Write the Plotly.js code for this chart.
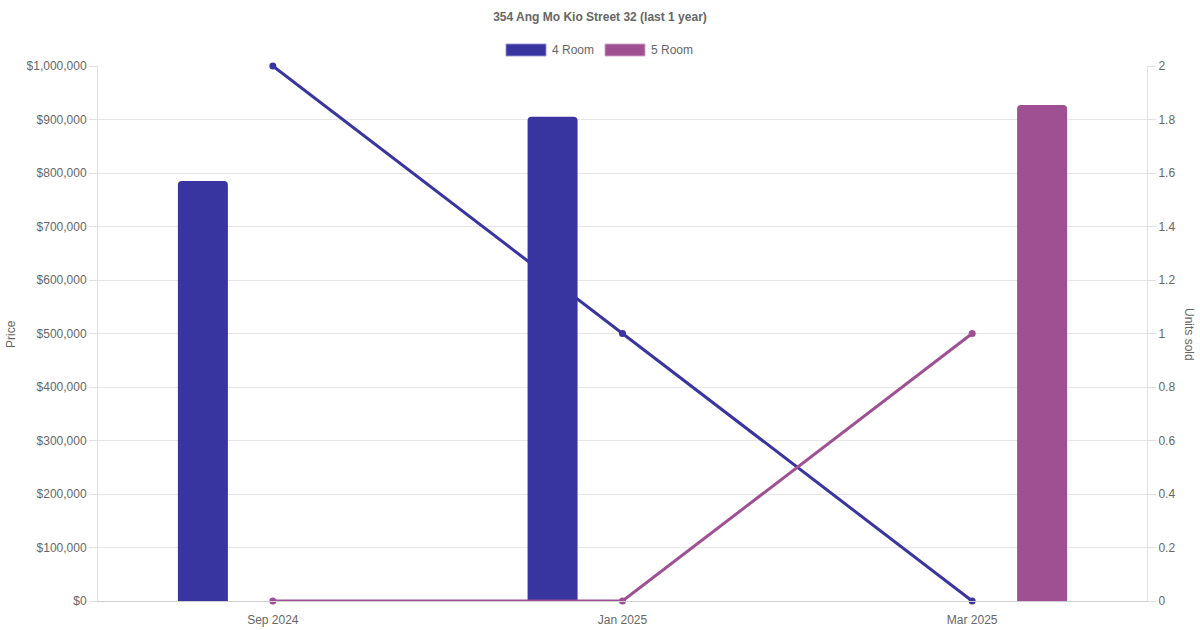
<!DOCTYPE html>
<html>
<head>
<meta charset="utf-8">
<script src="https://cdn.plot.ly/plotly-3.0.1.min.js"></script>
<style>html,body{margin:0;padding:0;background:#fff;}#chart{width:1200px;height:630px;}</style>
</head>
<body>
<div id="chart"></div>
<script>
const categories = ["Sep 2024", "Jan 2025", "Mar 2025"];
const seriesNames = ["4 Room", "5 Room"];
const price4Room = [785000, 905000, null];
const price5Room = [null, null, 927000];
const units4Room = [2, 1, 0];
const units5Room = [0, 0, 1];
const priceTicks = [0, 100000, 200000, 300000, 400000, 500000, 600000, 700000, 800000, 900000, 1000000];
const priceTickLabels = ["$0", "$100,000", "$200,000", "$300,000", "$400,000", "$500,000", "$600,000", "$700,000", "$800,000", "$900,000", "$1,000,000"];
const unitTicks = [0, 0.2, 0.4, 0.6, 0.8, 1, 1.2, 1.4, 1.6, 1.8, 2];
const unitTickLabels = ["0", "0.2", "0.4", "0.6", "0.8", "1", "1.2", "1.4", "1.6", "1.8", "2"];

const col4 = "rgb(57,53,160)";
const col5 = "rgb(158,80,147)";
const font = "Liberation Sans, Arial, Helvetica, sans-serif";
const barW = 0.143;

const traces = [
  {type: "bar", name: seriesNames[0], x: categories, y: price4Room, yaxis: "y",
   width: barW, offset: -0.2 - barW / 2, marker: {color: col4, cornerradius: 4}, showlegend: false},
  {type: "bar", name: seriesNames[1], x: categories, y: price5Room, yaxis: "y",
   width: barW, offset: 0.2 - barW / 2, marker: {color: col5, cornerradius: 4}, showlegend: false},
  {type: "scatter", mode: "lines+markers", name: seriesNames[0], x: categories, y: units4Room, yaxis: "y2",
   line: {color: col4, width: 3}, marker: {color: col4, size: 7}, showlegend: false, cliponaxis: false},
  {type: "scatter", mode: "lines+markers", name: seriesNames[1], x: categories, y: units5Room, yaxis: "y2",
   line: {color: col5, width: 3}, marker: {color: col5, size: 7}, showlegend: false, cliponaxis: false}
];

const layout = {
  width: 1200, height: 630,
  margin: {l: 98, r: 53, t: 66, b: 29},
  paper_bgcolor: "#fff", plot_bgcolor: "#fff",
  font: {family: font, size: 12, color: "#666"},
  barmode: "overlay",
  showlegend: false,
  title: {text: "<b>354 Ang Mo Kio Street 32 (last 1 year)</b>", x: 0.5, xanchor: "center", y: 1 - 17 / 630, yanchor: "middle",
          font: {family: font, size: 12, color: "#666"}},
  xaxis: {type: "category", range: [-0.5, 2.5], showgrid: false, zeroline: false,
          showline: true, linecolor: "#cfcfcf", linewidth: 1, ticks: "", ticklabelstandoff: 8,
          tickfont: {size: 12, color: "#666"}, fixedrange: true},
  yaxis: {range: [0, 1000000], tickvals: priceTicks, ticktext: priceTickLabels, showgrid: true, gridcolor: "#e6e6e6",
          zeroline: false, showline: true, linecolor: "#e0e0e0", ticks: "outside", ticklen: 8, tickcolor: "#e0e0e0",
          tickfont: {size: 12, color: "#666"}},
  yaxis2: {range: [0, 2], overlaying: "y", side: "right", tickvals: unitTicks, ticktext: unitTickLabels, showgrid: false,
           zeroline: false, showline: true, linecolor: "#e0e0e0", ticks: "outside", ticklen: 8, tickcolor: "#e0e0e0",
           tickfont: {size: 12, color: "#666"}},
  shapes: [
    {type: "rect", xref: "paper", yref: "paper", x0: (506 - 98) / 1049, x1: (546 - 98) / 1049,
     y0: (601 - 56) / 535, y1: (601 - 44) / 535, fillcolor: col4, line: {color: "rgba(150,145,210,0.9)", width: 1}},
    {type: "rect", xref: "paper", yref: "paper", x0: (605 - 98) / 1049, x1: (645 - 98) / 1049,
     y0: (601 - 56) / 535, y1: (601 - 44) / 535, fillcolor: col5, line: {color: "rgba(210,160,205,0.9)", width: 1}}
  ],
  annotations: [
    {xref: "paper", yref: "paper", x: (551 - 98) / 1049, y: (601 - 50) / 535, xanchor: "left", yanchor: "middle",
     text: seriesNames[0], showarrow: false, borderpad: 0, font: {size: 12, color: "#666"}},
    {xref: "paper", yref: "paper", x: (650 - 98) / 1049, y: (601 - 50) / 535, xanchor: "left", yanchor: "middle",
     text: seriesNames[1], showarrow: false, borderpad: 0, font: {size: 12, color: "#666"}},
    {xref: "paper", yref: "paper", x: (11 - 98) / 1049, y: (601 - 334) / 535, xanchor: "center", yanchor: "middle",
     text: "Price", textangle: -90, showarrow: false, font: {size: 12, color: "#666"}},
    {xref: "paper", yref: "paper", x: (1189 - 98) / 1049, y: (601 - 334) / 535, xanchor: "center", yanchor: "middle",
     text: "Units sold", textangle: 90, showarrow: false, font: {size: 12, color: "#666"}}
  ]
};

Plotly.newPlot("chart", traces, layout, {displayModeBar: false, staticPlot: true});
</script>
</body>
</html>
